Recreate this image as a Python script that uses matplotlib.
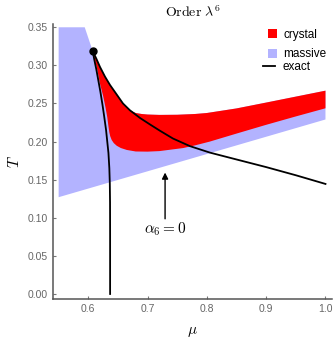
import numpy as np
import matplotlib
matplotlib.use('Agg')
import matplotlib.pyplot as plt
from matplotlib.patches import Patch
from matplotlib.lines import Line2D

plt.rcParams['mathtext.fontset'] = 'cm'
plt.rcParams['font.family'] = 'Liberation Sans'

# critical point (black dot)
crit_mu, crit_T = 0.6074, 0.319

# exact transition line, descending branch
exact_mu = [0.6074, 0.6138, 0.6197, 0.6282, 0.6366, 0.645, 0.6585, 0.6703, 0.6872, 0.704,
            0.7209, 0.7428, 0.7715, 0.8052, 0.85, 0.90, 0.95, 1.000]
exact_T = [0.319, 0.3084, 0.298, 0.2852, 0.2743, 0.265, 0.2500, 0.2410, 0.231, 0.2225,
           0.2142, 0.2040, 0.1940, 0.1855, 0.1765, 0.1665, 0.1558, 0.1444]

# alpha_6 = 0 line, near vertical branch
alpha_mu = [0.6074, 0.610, 0.6135, 0.617, 0.6205, 0.624, 0.627, 0.630, 0.632, 0.634,
            0.6355, 0.6363, 0.6367, 0.6368, 0.6368]
alpha_T = [0.319, 0.308, 0.295, 0.280, 0.265, 0.248, 0.232, 0.215, 0.200, 0.185,
           0.165, 0.145, 0.120, 0.080, 0.000]

# crystal region: upper edge (left to right), lower edge (right to left)
crystal_top_mu = [0.6074, 0.6138, 0.6197, 0.6282, 0.6366, 0.645, 0.6585, 0.6703, 0.680, 0.690,
                  0.700, 0.720, 0.750, 0.780, 0.800, 0.850, 0.900, 0.950, 1.000]
crystal_top_T = [0.319, 0.3084, 0.298, 0.2852, 0.2743, 0.265, 0.2500, 0.2410, 0.2375, 0.2362,
                 0.2355, 0.235, 0.2352, 0.2362, 0.2375, 0.2435, 0.2512, 0.259, 0.2668]
crystal_bot_mu = [1.000, 0.950, 0.900, 0.850, 0.805, 0.780, 0.760, 0.740, 0.720, 0.700,
                  0.680, 0.665, 0.655, 0.648, 0.643, 0.6395, 0.637, 0.6355, 0.634, 0.632,
                  0.629, 0.625, 0.620, 0.615, 0.6074]
crystal_bot_T = [0.2437, 0.233, 0.222, 0.2105, 0.200, 0.195, 0.1915, 0.1895, 0.1875, 0.1868,
                 0.187, 0.189, 0.1915, 0.1945, 0.198, 0.202, 0.207, 0.212, 0.220, 0.232,
                 0.245, 0.260, 0.275, 0.295, 0.319]

# massive region outline
massive_mu = [0.550, 0.550, 0.594] + crystal_top_mu + [1.000]
massive_T = [0.127, 0.350, 0.350] + crystal_top_T + [0.229]

fig = plt.figure(figsize=(3.34, 3.40), dpi=100)
ax = fig.add_axes([0.1587, 0.1206, 0.8353, 0.8088])

ax.fill(massive_mu, massive_T, color='#b3b3ff', lw=0)
ax.fill(crystal_top_mu + crystal_bot_mu, crystal_top_T + crystal_bot_T, color='#ff0000', lw=0)
ax.plot(exact_mu, exact_T, color='black', lw=1.3)
ax.plot(alpha_mu, alpha_T, color='black', lw=1.3)
ax.plot(crit_mu, crit_T, 'o', color='black', ms=5)

ax.annotate('', xy=(0.7295, 0.163), xytext=(0.7295, 0.095),
            arrowprops=dict(arrowstyle='-|>', color='black', lw=1.0, mutation_scale=9))
ax.text(0.7295, 0.085, r'$\alpha_6 = 0$', ha='center', va='center', fontsize=11)

ax.set_xlim(0.5405, 1.011)
ax.set_ylim(-0.0066, 0.3543)
ax.set_xticks([0.6, 0.7, 0.8, 0.9, 1.0])
ax.set_xticklabels(['0.6', '0.7', '0.8', '0.9', '1.0'])
ax.set_yticks([0.0, 0.05, 0.10, 0.15, 0.20, 0.25, 0.30, 0.35])
ax.set_yticklabels(['0.00', '0.05', '0.10', '0.15', '0.20', '0.25', '0.30', '0.35'])
ax.tick_params(direction='in', length=2.5, width=0.8, color='#777777', labelcolor='#666666',
               labelsize=7.5, pad=3.5)
for side in ['top', 'right']:
    ax.spines[side].set_visible(False)
for side in ['left', 'bottom']:
    ax.spines[side].set_color('#555555')
    ax.spines[side].set_linewidth(1.1)

ax.set_title(r'$\mathrm{Order}\ \lambda^6$', fontsize=10, pad=5)
ax.set_xlabel(r'$\mu$', fontsize=11, labelpad=8)
ax.set_ylabel(r'$T$', fontsize=11, labelpad=4)

leg1 = ax.legend(handles=[Patch(color='#ff0000', lw=0), Patch(color='#b3b3ff', lw=0)],
                 labels=['crystal', 'massive'], loc='upper left', bbox_to_anchor=(0.7706, 0.982),
                 frameon=False, fontsize=8.5, handlelength=0.8, handleheight=0.8,
                 handletextpad=0.5, labelspacing=0.62, borderpad=0, borderaxespad=0)
ax.add_artist(leg1)
ax.legend(handles=[Line2D([], [], color='black', lw=1.3)], labels=['exact'],
          loc='upper left', bbox_to_anchor=(0.7516, 0.866), frameon=False, fontsize=8.5,
          handlelength=1.05, handletextpad=0.65, borderpad=0, borderaxespad=0)

fig.savefig('out.png', dpi=100)
